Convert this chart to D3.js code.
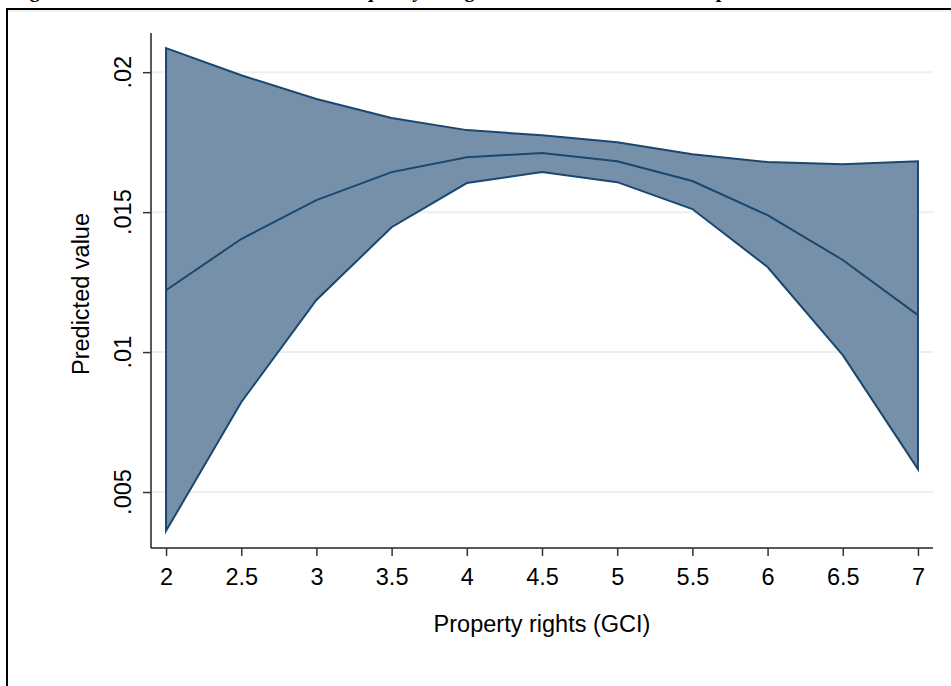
<!DOCTYPE html>
<html>
<head>
<meta charset="utf-8">
<script src="https://cdn.jsdelivr.net/npm/d3@7"></script>
<style>
  body { margin: 0; background: #fff; }
  svg { display: block; }
</style>
</head>
<body>
<div id="chart"></div>
<script>
// property rights score (GCI) on the x axis
var rights = [2, 2.5, 3, 3.5, 4, 4.5, 5, 5.5, 6, 6.5, 7]
// predicted value with its upper and lower bound
var predicted = [0.01221, 0.01404, 0.01543, 0.01643, 0.01696, 0.01711, 0.01682, 0.01611, 0.01489, 0.01329, 0.01132]
var upper = [0.02086, 0.01989, 0.01904, 0.01836, 0.01793, 0.01775, 0.01750, 0.01707, 0.01679, 0.01671, 0.01682]
var lower = [0.00361, 0.00821, 0.01186, 0.01446, 0.01604, 0.01643, 0.01607, 0.01511, 0.01304, 0.00989, 0.00582]

var xTicks = [2, 2.5, 3, 3.5, 4, 4.5, 5, 5.5, 6, 6.5, 7]
var yTicks = [0.005, 0.01, 0.015, 0.02]
var yTickLabels = [".005", ".01", ".015", ".02"]

var title = "Figure 2: Predicted value of institutional quality and governance indicators on the protection of the rule of law"

var width = 951, height = 686
var sans = "'Liberation Sans', Arial, sans-serif"
var navy = "#1a476f"
var fontSize = "23.5px"

var svg = d3.select("#chart")
    .append("svg")
    .attr("width", width)
    .attr("height", height)

// title, only its descenders show at the top edge
svg.append("text")
    .attr("x", 12)
    .attr("y", -3)
    .attr("font-family", "'Liberation Serif', 'Times New Roman', serif")
    .attr("font-weight", "bold")
    .attr("font-size", "20px")
    .attr("fill", "#000")
    .text(title)

// outer frame
svg.append("rect")
    .attr("x", 7)
    .attr("y", 9)
    .attr("width", 1200)
    .attr("height", 1200)
    .attr("fill", "none")
    .attr("stroke", "#000")
    .attr("stroke-width", 2)

svg.append("line")
    .attr("x1", 8).attr("x2", width)
    .attr("y1", 11).attr("y2", 11)
    .attr("stroke", "#dfe8ea")
    .attr("stroke-width", 1)

var x = d3.scaleLinear().domain([1.9, 7.1]).range([151, 933])
var y = d3.scaleLinear().domain([0.003, 0.0214]).range([548, 33])

// gridlines
svg.selectAll("line.grid")
    .data(yTicks)
    .enter()
    .append("line")
    .attr("class", "grid")
    .attr("x1", x.range()[0])
    .attr("x2", x.range()[1])
    .attr("y1", d => y(d))
    .attr("y2", d => y(d))
    .attr("stroke", "#eaf0f2")
    .attr("stroke-width", 2)

var rows = rights.map(function (r, i) {
    return { x: r, mid: predicted[i], hi: upper[i], lo: lower[i] }
})

var area = d3.area()
    .x(d => x(d.x))
    .y0(d => y(d.lo))
    .y1(d => y(d.hi))

svg.append("path")
    .datum(rows)
    .attr("d", area)
    .attr("fill", "#7790a9")
    .attr("stroke", navy)
    .attr("stroke-width", 2)
    .attr("stroke-linejoin", "miter")

var line = d3.line()
    .x(d => x(d.x))
    .y(d => y(d.mid))

svg.append("path")
    .datum(rows)
    .attr("d", line)
    .attr("fill", "none")
    .attr("stroke", navy)
    .attr("stroke-width", 2)

// y axis
var yAxis = d3.axisLeft(y)
    .tickValues(yTicks)
    .tickSize(8)
    .tickFormat("")

var gy = svg.append("g")
    .attr("transform", "translate(151,0)")
    .call(yAxis)
gy.select(".domain").attr("d", "M0,33V548").attr("stroke", "#222").attr("stroke-width", 1.5)
gy.selectAll(".tick line").attr("stroke", "#333").attr("stroke-width", 1.5)

svg.selectAll("text.ylab")
    .data(yTicks)
    .enter()
    .append("text")
    .attr("class", "ylab")
    .attr("transform", d => "translate(131," + y(d) + ") rotate(-90)")
    .attr("text-anchor", "middle")
    .attr("font-family", sans)
    .attr("font-size", fontSize)
    .attr("fill", "#000")
    .text((d, i) => yTickLabels[i])

// x axis
var xAxis = d3.axisBottom(x)
    .tickValues(xTicks)
    .tickSize(8)
    .tickFormat(d3.format("~g"))

var gx = svg.append("g")
    .attr("transform", "translate(0,548)")
    .call(xAxis)
gx.select(".domain").attr("d", "M151,0H933").attr("stroke", "#222").attr("stroke-width", 1.5)
gx.selectAll(".tick line").attr("stroke", "#333").attr("stroke-width", 1.5)
gx.selectAll(".tick text")
    .attr("y", 37)
    .attr("dy", 0)
    .attr("font-family", sans)
    .attr("font-size", fontSize)
    .attr("fill", "#000")

// axis titles
svg.append("text")
    .attr("x", 542)
    .attr("y", 632)
    .attr("text-anchor", "middle")
    .attr("font-family", sans)
    .attr("font-size", fontSize)
    .attr("fill", "#000")
    .text("Property rights (GCI)")

svg.append("text")
    .attr("transform", "translate(89,294) rotate(-90)")
    .attr("text-anchor", "middle")
    .attr("font-family", sans)
    .attr("font-size", fontSize)
    .attr("fill", "#000")
    .text("Predicted value")
</script>
</body>
</html>
